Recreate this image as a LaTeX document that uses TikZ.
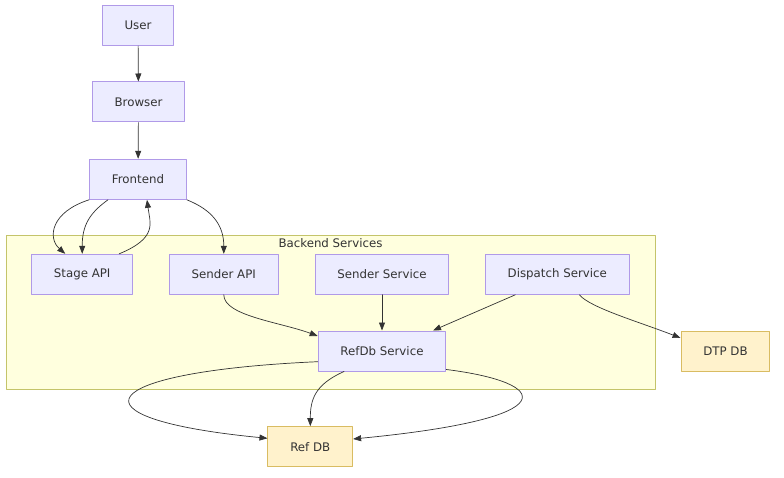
\documentclass[tikz,border=0pt]{standalone}
\usepackage{fontspec}
\setmainfont{DejaVu Sans}
\usetikzlibrary{arrows.meta}
\definecolor{svcfill}{HTML}{ECECFF}
\definecolor{svcline}{HTML}{B09AE8}
\definecolor{dbfill}{HTML}{FFF2CC}
\definecolor{dbline}{HTML}{D9BC62}
\definecolor{grpfill}{HTML}{FFFFDE}
\definecolor{grpline}{HTML}{C4C46A}
\definecolor{ink}{HTML}{333333}
\begin{document}
\begin{tikzpicture}[x=1pt, y=-1pt, font=\fontsize{11.8}{14}\selectfont, text=ink,
    svc/.style={draw=svcline, fill=svcfill, line width=1pt, minimum height=40pt, inner xsep=22.3pt},
    db/.style={draw=dbline, fill=dbfill, line width=1pt, minimum height=40pt, inner xsep=22.3pt},
    grp/.style={draw=grpline, fill=grpfill, line width=1pt, inner sep=0pt},
    edge/.style={draw=ink, line width=0.7pt, -{Triangle[length=8pt,width=6pt]}},
    line join = round, line cap = round]
      \useasboundingbox (0,0) rectangle (784,478);

      \node[grp, minimum width=649pt, minimum height=153pt] (backend) at (330.5,312.5) {};
      \node[anchor=north, inner sep=1pt] (backendlbl) at (330.5,237.5) {Backend Services};

      \node[svc] (user) at (138,25.5) {User};
      \node[svc] (browser) at (138.5,102) {Browser};
      \node[svc] (frontend) at (138,179.3) {Frontend};

      \node[svc] (stage) at (82.2,274.3) {Stage API};
      \node[svc] (senderapi) at (223.8,274.3) {Sender API};
      \node[svc] (sendersvc) at (382,274.3) {Sender Service};
      \node[svc] (dispatch) at (557.3,274.3) {Dispatch Service};
      \node[svc] (refdbsvc) at (382,351) {RefDb Service};

      \node[db] (dtpdb) at (725.5,351) {DTP DB};
      \node[db] (refdb) at (310.3,446.7) {Ref DB};

      \draw[edge] (user) -- (browser);
      \draw[edge] (browser) -- (frontend);

      \draw[edge] (frontend.south west) .. controls +(-38,12) and +(-18,-16) .. ([xshift=-17pt]stage.north);
      \draw[edge] ([xshift=-30pt]frontend.south) .. controls +(-18,13) and +(0,-29) .. (stage.north);
      \draw[edge] ([xshift=37pt]stage.north) .. controls +(39,-16) and +(3,23) .. ([xshift=9pt]frontend.south);
      \draw[edge] (frontend.south east) .. controls +(25,10) and +(0,-29) .. (senderapi.north);

      \draw[edge] (senderapi.south) .. controls +(0,21) and +(-38,-14) .. ([yshift=15pt]refdbsvc.west);
      \draw[edge] (sendersvc) -- (refdbsvc);
      \draw[edge] ([xshift=-42pt]dispatch.south) -- ([xshift=51pt]refdbsvc.north);
      \draw[edge] ([xshift=22pt]dispatch.south) .. controls +(11,13) and +(-41,-16) .. ([yshift=13pt]dtpdb.west);

      \draw[edge] ([yshift=-10.7pt]refdbsvc.west) .. controls +(-225,10) and +(-205,-20) .. ([yshift=8.4pt]refdb.west);
      \draw[edge] ([xshift=-38pt]refdbsvc.south) .. controls +(-29,13) and +(0,-27) .. (refdb.north);
      \draw[edge] ([yshift=2pt]refdbsvc.south east) .. controls +(104,13) and +(217,-21) .. ([yshift=7.7pt]refdb.east);
    \end{tikzpicture}
\end{document}
